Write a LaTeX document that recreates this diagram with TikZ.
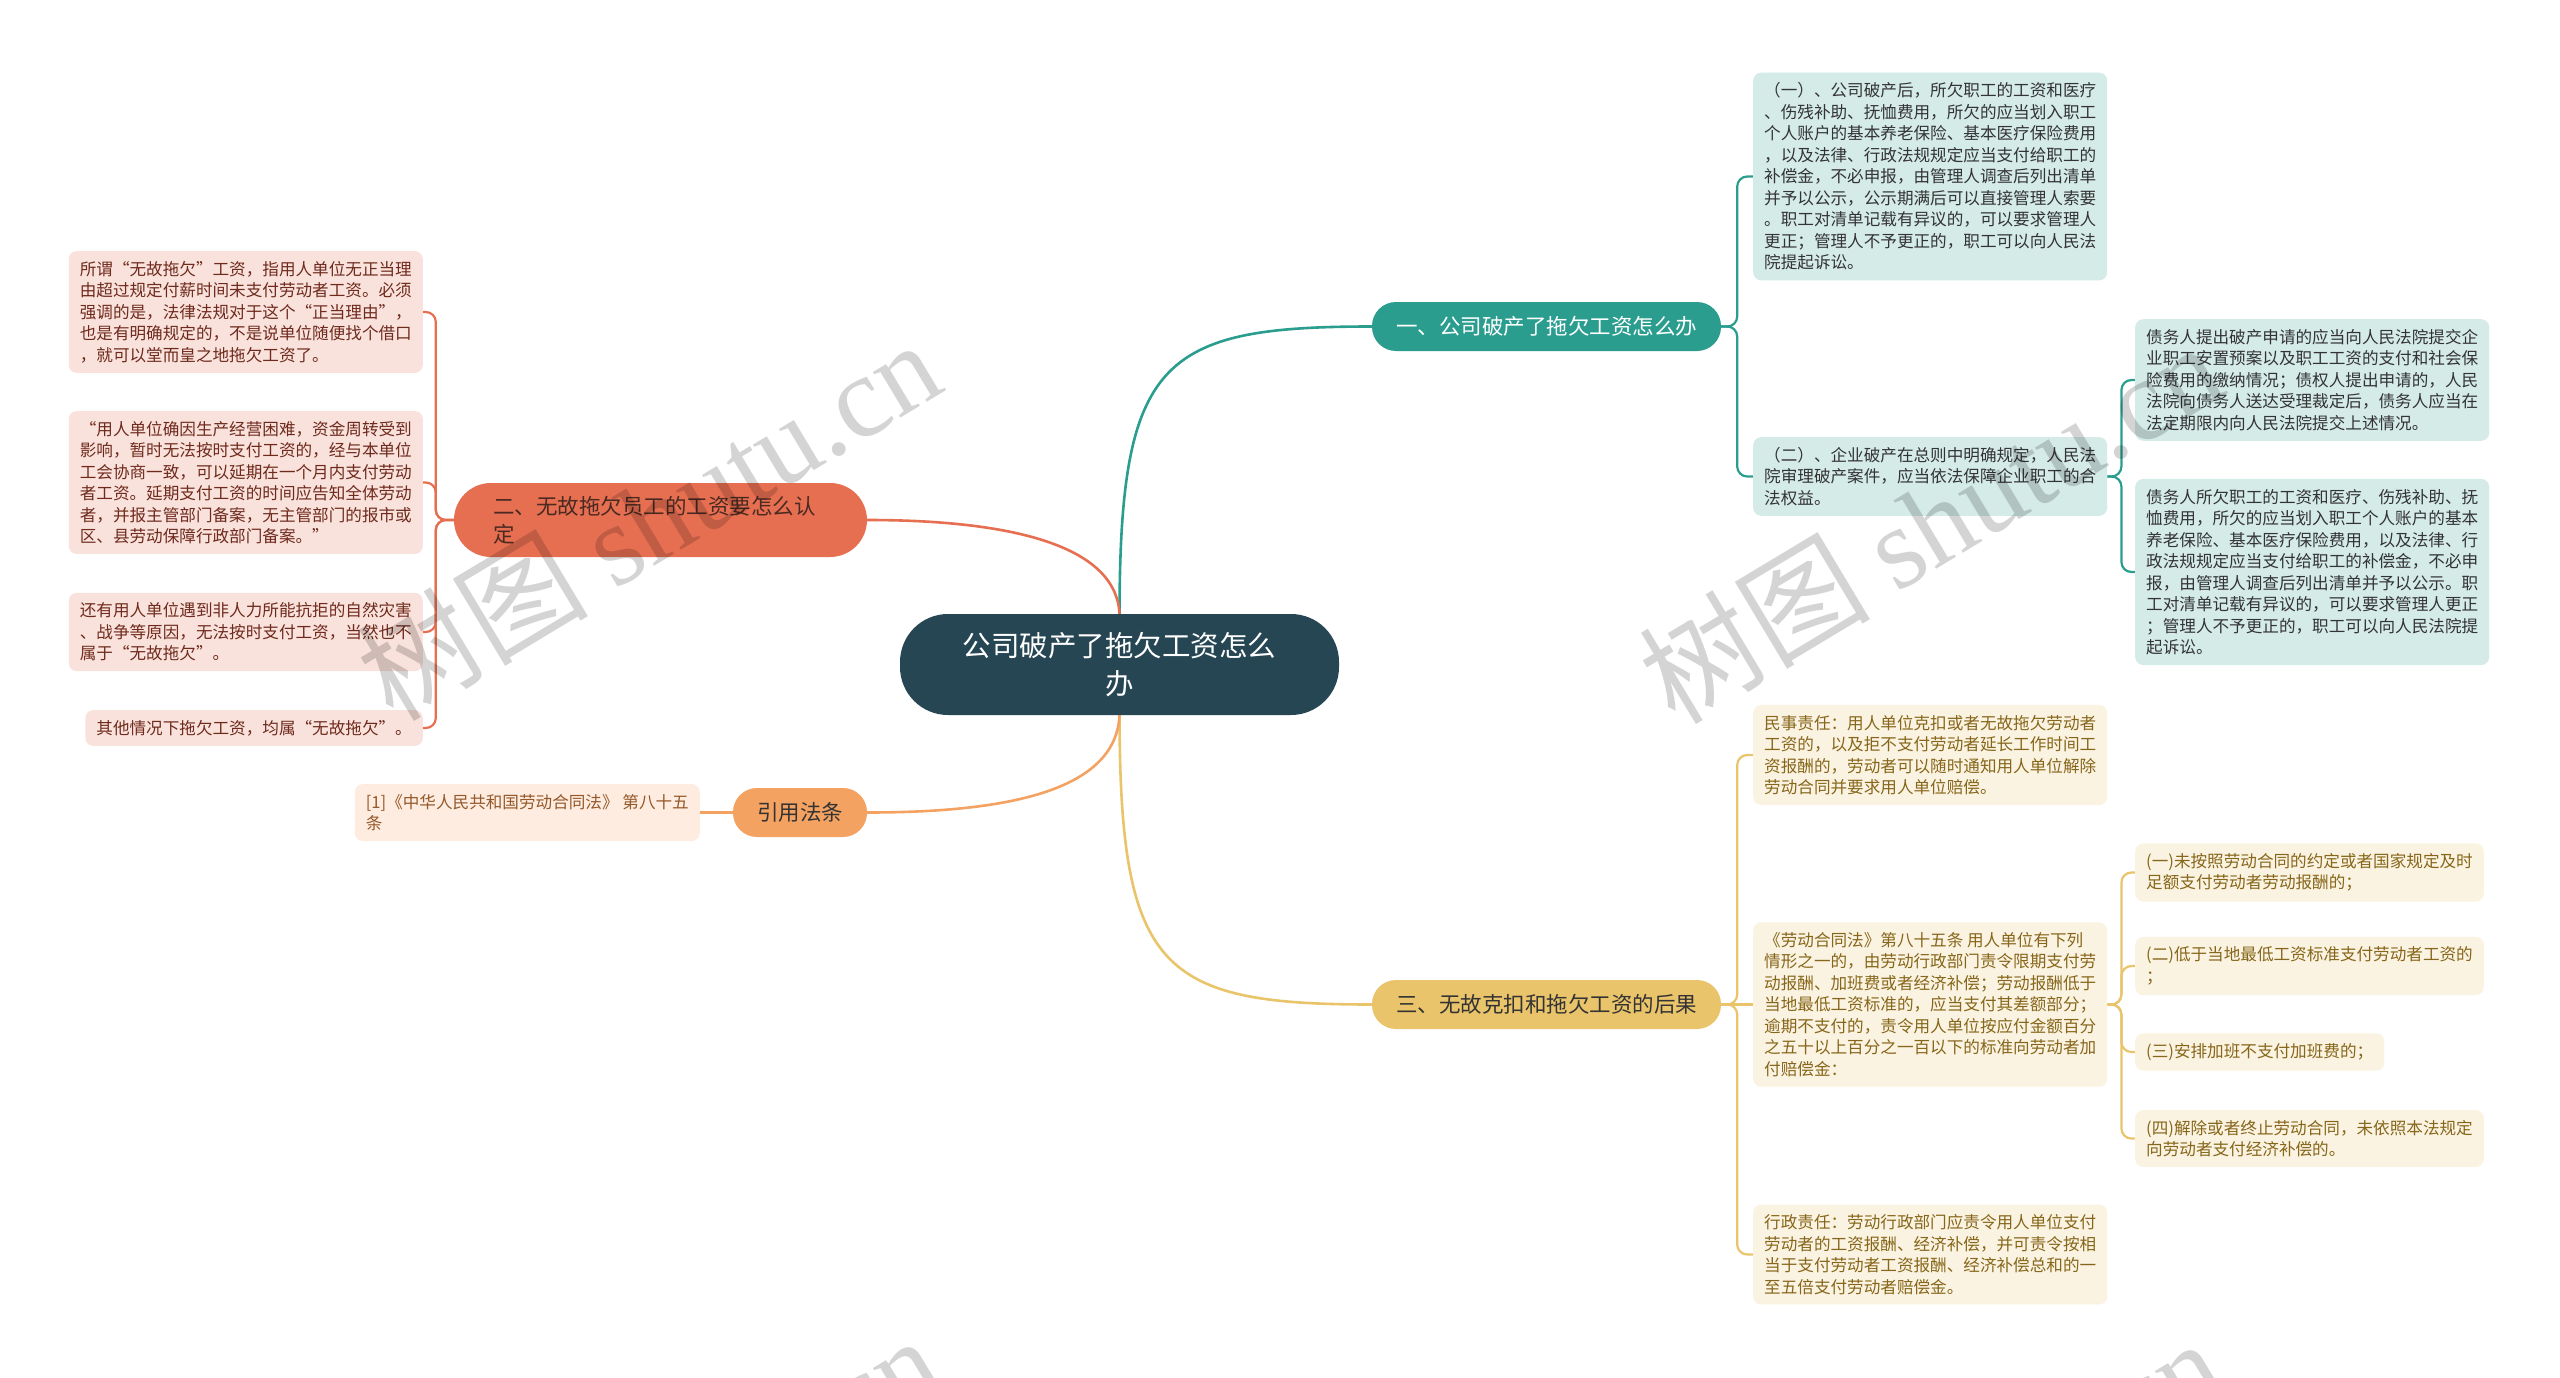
\documentclass[tikz,border=0pt]{standalone}
\usepackage{fontspec}
\setmainfont{Noto Sans CJK SC}
\newfontfamily\wmlatin{Liberation Serif}
\usetikzlibrary{calc}
\pgfdeclarelayer{bg}
\pgfdeclarelayer{paper}
\pgfsetlayers{paper,bg,main}

\definecolor{cmain}{HTML}{264653}
\definecolor{cteal}{HTML}{2A9D8F}
\definecolor{cteallt}{HTML}{D4EBE8}
\definecolor{cred}{HTML}{E76F51}
\definecolor{credlt}{HTML}{FAE2DC}
\definecolor{credtx}{HTML}{6E2A1C}
\definecolor{cbtwotx}{HTML}{4A2A22}
\definecolor{cyel}{HTML}{E9C46A}
\definecolor{cyellt}{HTML}{FBF3E1}
\definecolor{cyeltx}{HTML}{86661A}
\definecolor{corg}{HTML}{F4A261}
\definecolor{corglt}{HTML}{FDECDF}
\definecolor{corgtx}{HTML}{94582A}
\definecolor{ctext}{HTML}{333333}

\begin{document}
\begin{tikzpicture}[x=1pt,y=-1pt,
  leaf/.style={rounded corners=8pt, inner xsep=11pt, inner ysep=10pt, align=left, font=\fontsize{16.6}{21.5}\selectfont},
  tealleaf/.style={leaf, fill=cteallt, text=ctext},
  redleaf/.style={leaf, fill=credlt, text=credtx},
  yelleaf/.style={leaf, fill=cyellt, text=cyeltx},
  orgleaf/.style={leaf, fill=corglt, text=corgtx},
  branch/.style={rounded corners=24pt, minimum height=49pt, inner xsep=24pt, inner ysep=0pt, font=\fontsize{21.5}{28}\selectfont},
  maincurve/.style={line width=2.6pt},
  bracket/.style={line width=2.2pt, rounded corners=10pt},
  wm/.style={text=black, text opacity=0.17, rotate=31, inner sep=0pt, font=\fontsize{116}{116}\selectfont}
]
\useasboundingbox (0,0) rectangle (2560,1378);
\begin{pgfonlayer}{paper}
\fill[white] (0,0) rectangle (2560,1378);
\end{pgfonlayer}

% central node
\node[fill=cmain, text=white, rounded corners=48pt, minimum width=439pt, minimum height=101pt,
      align=center, font=\fontsize{28.5}{37.5}\selectfont] (c) at (1119.5,664.5)
  {公司破产了拖欠工资怎么\\办};

% branches
\node[branch, fill=cteal, text=white] (b1) at (1546.5,326.5) {一、公司破产了拖欠工资怎么办};
\node[branch, fill=cyel, text=ctext] (b3) at (1546.5,1004.5) {三、无故克扣和拖欠工资的后果};
\node[branch, fill=corg, text=ctext] (b4) at (800,812.5) {引用法条};
\node[fill=cred, text=cbtwotx, rounded corners=37pt, minimum width=413pt, minimum height=74pt,
      inner xsep=39pt, inner ysep=0pt, text width=335pt, align=left,
      font=\fontsize{21.5}{28}\selectfont] (b2) at (660.5,520)
  {二、无故拖欠员工的工资要怎么认\\定};

% branch 1 leaves
\node[tealleaf, anchor=west] (l1a) at (1753,176.5)
 {（一）、公司破产后，所欠职工的工资和医疗\\
  、伤残补助、抚恤费用，所欠的应当划入职工\\
  个人账户的基本养老保险、基本医疗保险费用\\
  ，以及法律、行政法规规定应当支付给职工的\\
  补偿金，不必申报，由管理人调查后列出清单\\
  并予以公示，公示期满后可以直接管理人索要\\
  。职工对清单记载有异议的，可以要求管理人\\
  更正；管理人不予更正的，职工可以向人民法\\
  院提起诉讼。};
\node[tealleaf, anchor=west] (l1b) at (1753,476.5)
 {（二）、企业破产在总则中明确规定，人民法\\
  院审理破产案件，应当依法保障企业职工的合\\
  法权益。};
\node[tealleaf, anchor=west] (l1b1) at (2135,380)
 {债务人提出破产申请的应当向人民法院提交企\\
  业职工安置预案以及职工工资的支付和社会保\\
  险费用的缴纳情况；债权人提出申请的，人民\\
  法院向债务人送达受理裁定后，债务人应当在\\
  法定期限内向人民法院提交上述情况。};
\node[tealleaf, anchor=west] (l1b2) at (2135,572)
 {债务人所欠职工的工资和医疗、伤残补助、抚\\
  恤费用，所欠的应当划入职工个人账户的基本\\
  养老保险、基本医疗保险费用，以及法律、行\\
  政法规规定应当支付给职工的补偿金，不必申\\
  报，由管理人调查后列出清单并予以公示。职\\
  工对清单记载有异议的，可以要求管理人更正\\
  ；管理人不予更正的，职工可以向人民法院提\\
  起诉讼。};

% branch 2 leaves
\node[redleaf, anchor=east] (l2a) at (423,312)
 {所谓“无故拖欠”工资，指用人单位无正当理\\
  由超过规定付薪时间未支付劳动者工资。必须\\
  强调的是，法律法规对于这个“正当理由”，\\
  也是有明确规定的，不是说单位随便找个借口\\
  ，就可以堂而皇之地拖欠工资了。};
\node[redleaf, anchor=east] (l2b) at (423,482.5)
 {“用人单位确因生产经营困难，资金周转受到\\
  影响，暂时无法按时支付工资的，经与本单位\\
  工会协商一致，可以延期在一个月内支付劳动\\
  者工资。延期支付工资的时间应告知全体劳动\\
  者，并报主管部门备案，无主管部门的报市或\\
  区、县劳动保障行政部门备案。”};
\node[redleaf, anchor=east] (l2c) at (423,632)
 {还有用人单位遇到非人力所能抗拒的自然灾害\\
  、战争等原因，无法按时支付工资，当然也不\\
  属于“无故拖欠”。};
\node[redleaf, anchor=east] (l2d) at (423,728)
 {其他情况下拖欠工资，均属“无故拖欠”。};

% citation
\node[orgleaf, anchor=east] (cite) at (700,812.5)
 {[1]《中华人民共和国劳动合同法》 第八十五\\
  条};

% branch 3 leaves
\node[yelleaf, anchor=west] (l3a) at (1753,755)
 {民事责任：用人单位克扣或者无故拖欠劳动者\\
  工资的，以及拒不支付劳动者延长工作时间工\\
  资报酬的，劳动者可以随时通知用人单位解除\\
  劳动合同并要求用人单位赔偿。};
\node[yelleaf, anchor=west] (l3b) at (1753,1004.5)
 {《劳动合同法》第八十五条 用人单位有下列\\
  情形之一的，由劳动行政部门责令限期支付劳\\
  动报酬、加班费或者经济补偿；劳动报酬低于\\
  当地最低工资标准的，应当支付其差额部分；\\
  逾期不支付的，责令用人单位按应付金额百分\\
  之五十以上百分之一百以下的标准向劳动者加\\
  付赔偿金：};
\node[yelleaf, anchor=west] (l3c) at (1753,1254.5)
 {行政责任：劳动行政部门应责令用人单位支付\\
  劳动者的工资报酬、经济补偿，并可责令按相\\
  当于支付劳动者工资报酬、经济补偿总和的一\\
  至五倍支付劳动者赔偿金。};
\node[yelleaf, anchor=west] (l3b1) at (2135,872.5)
 {(一)未按照劳动合同的约定或者国家规定及时\\
  足额支付劳动者劳动报酬的；};
\node[yelleaf, anchor=west] (l3b2) at (2135,966)
 {(二)低于当地最低工资标准支付劳动者工资的\\
  ；};
\node[yelleaf, anchor=west] (l3b3) at (2135,1052)
 {(三)安排加班不支付加班费的；};
\node[yelleaf, anchor=west] (l3b4) at (2135,1138.5)
 {(四)解除或者终止劳动合同，未依照本法规定\\
  向劳动者支付经济补偿的。};

% connectors
\begin{pgfonlayer}{bg}
\draw[maincurve, cteal] (c.north) .. controls (1120,360) and (1160,326.5) .. (b1.west);
\draw[maincurve, cred] (c.north) .. controls (1116,545) and (1010,520) .. (b2.east);
\draw[maincurve, cyel] (c.south) .. controls (1120,970) and (1160,1004.5) .. (b3.west);
\draw[maincurve, corg] (c.south) .. controls (1116,790) and (1010,812.5) .. (b4.east);

\draw[bracket, cteal] (b1.east) -- ++(16,0) |- (l1a.west);
\draw[bracket, cteal] (b1.east) -- ++(16,0) |- (l1b.west);
\draw[bracket, cteal] (l1b.east) -- ++(14,0) |- (l1b1.west);
\draw[bracket, cteal] (l1b.east) -- ++(14,0) |- (l1b2.west);

\draw[bracket, cred] (b2.west) -- ++(-18,0) |- (l2a.east);
\draw[bracket, cred] (b2.west) -- ++(-18,0) |- (l2b.east);
\draw[bracket, cred] (b2.west) -- ++(-18,0) |- (l2c.east);
\draw[bracket, cred] (b2.west) -- ++(-18,0) |- (l2d.east);

\draw[bracket, corg] (b4.west) -- (cite.east);

\draw[bracket, cyel] (b3.east) -- ++(16,0) |- (l3a.west);
\draw[bracket, cyel] (b3.east) -- (l3b.west);
\draw[bracket, cyel] (b3.east) -- ++(16,0) |- (l3c.west);
\draw[bracket, cyel] (l3b.east) -- ++(14,0) |- (l3b1.west);
\draw[bracket, cyel] (l3b.east) -- ++(14,0) |- (l3b2.west);
\draw[bracket, cyel] (l3b.east) -- ++(14,0) |- (l3b3.west);
\draw[bracket, cyel] (l3b.east) -- ++(14,0) |- (l3b4.west);
\end{pgfonlayer}

% watermarks
\begin{scope}
\clip (0,0) rectangle (2560,1378);
\node[wm] (w1) at (648,519) {树图 {\wmlatin shutu.cn}};
\node[wm] (w2) at (1930,522) {树图 {\wmlatin shutu.cn}};
\node[wm] (w3) at (648,1515) {树图 {\wmlatin shutu.cn}};
\node[wm] (w4) at (1930,1518) {树图 {\wmlatin shutu.cn}};
\end{scope}
\end{tikzpicture}
\end{document}
